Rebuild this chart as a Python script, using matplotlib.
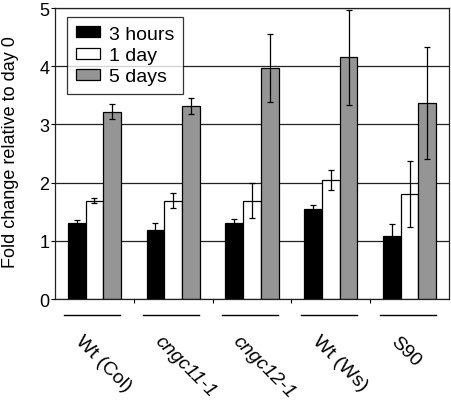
import matplotlib
matplotlib.use("Agg")
import matplotlib.pyplot as plt
import matplotlib.transforms as mtransforms
import numpy as np

plt.rcParams["font.family"] = ["Liberation Sans", "DejaVu Sans"]

# ---- data ----
genotypes = ["Wt (Col)", "cngc11-1", "cngc12-1", "Wt (Ws)", "S90"]
italic = [False, True, True, False, False]
series = ["3 hours", "1 day", "5 days"]
hours3 = [1.31, 1.18, 1.31, 1.54, 1.08]
hours3_err = [0.04, 0.12, 0.07, 0.08, 0.21]
day1 = [1.69, 1.69, 1.69, 2.05, 1.80]
day1_err = [0.04, 0.13, 0.30, 0.17, 0.57]
days5 = [3.22, 3.32, 3.97, 4.15, 3.37]
days5_err = [0.13, 0.14, 0.58, 0.81, 0.96]
colors = ["#000000", "#ffffff", "#959595"]

fig = plt.figure(figsize=(4.51, 4.02), dpi=100)
ax = fig.add_axes([0.122, 0.2537, 0.8736, 0.7239])

x = np.arange(len(genotypes))
w = 0.225
values = [hours3, day1, days5]
errors = [hours3_err, day1_err, days5_err]
for i, (vals, errs) in enumerate(zip(values, errors)):
    pos = x + (i - 1) * w
    ax.bar(pos, vals, width=w, color=colors[i], edgecolor="black",
           linewidth=0.9, label=series[i], zorder=2)
    ax.errorbar(pos, vals, yerr=errs, fmt="none", ecolor="black",
                elinewidth=0.9, capsize=2.2, capthick=0.9, zorder=3)

ax.set_xlim(-0.5, len(genotypes) - 0.5)
ax.set_ylim(0, 5)
ax.set_yticks(range(6))
ax.tick_params(axis="y", labelsize=13, length=3, width=0.8, pad=1)
ax.set_xticks(x[:-1] + 0.5)
ax.set_xticklabels([])
ax.tick_params(axis="x", length=3, width=0.8)
ax.yaxis.grid(True, color="#222222", linewidth=0.9, zorder=0)
ax.set_axisbelow(True)
for s in ax.spines.values():
    s.set_linewidth(0.9)
    s.set_color("#222222")

# y label placed by figure pixels
fig.text(10.5 / 451, 1 - 152 / 402, "Fold change relative to day 0",
         rotation=90, ha="center", va="center", fontsize=13)

# group underlines and rotated labels
trans = mtransforms.blended_transform_factory(ax.transData, ax.transAxes)
for xi, name, it in zip(x, genotypes, italic):
    ax.plot([xi - 0.38, xi + 0.33], [-0.055, -0.055], color="black",
            linewidth=1.0, transform=trans, clip_on=False)
    ax.text(xi - 0.13, -0.115, name, transform=trans, rotation=-45,
            rotation_mode="anchor", ha="left", va="top", fontsize=14,
            style="italic" if it else "normal")

leg = ax.legend(loc="upper left", bbox_to_anchor=(0.03, 0.969), fontsize=14,
                frameon=True, fancybox=False, borderpad=0.45, labelspacing=0.22,
                handlelength=1.25, handleheight=0.5, handletextpad=0.45,
                borderaxespad=0)
leg.get_frame().set_edgecolor("black")
leg.get_frame().set_linewidth(0.9)
leg.set_zorder(5)

fig.savefig("out.png", dpi=100)
